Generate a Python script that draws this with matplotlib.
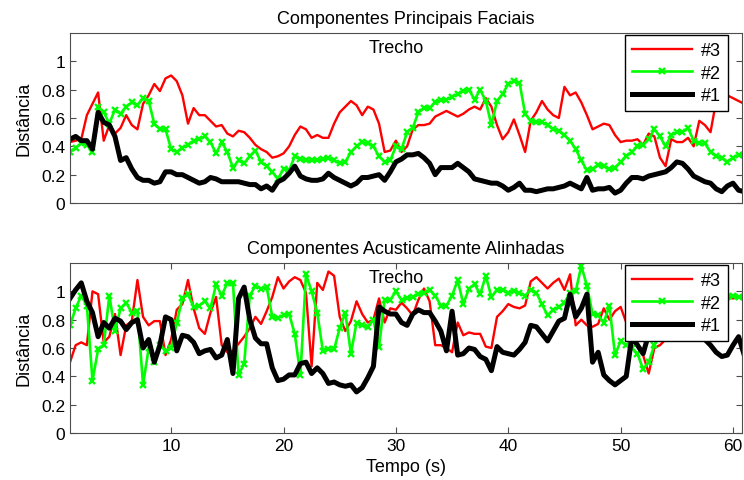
import numpy as np
import matplotlib
matplotlib.use('Agg')
import matplotlib.pyplot as plt

plt.rcParams['font.family'] = ['Liberation Sans', 'DejaVu Sans']

# tempo em segundos, um ponto a cada 0.5 s
tempo = np.linspace(1, 61, 121)

# Componentes Principais Faciais
fac_3 = [0.43, 0.44, 0.45, 0.62, 0.70, 0.78, 0.44, 0.55, 0.49, 0.53,
         0.62, 0.55, 0.52, 0.70, 0.76, 0.84, 0.79, 0.88, 0.90, 0.86,
         0.76, 0.56, 0.67, 0.62, 0.62, 0.58, 0.54, 0.55, 0.49, 0.47,
         0.51, 0.50, 0.46, 0.41, 0.38, 0.36, 0.32, 0.33, 0.35, 0.40,
         0.48, 0.54, 0.52, 0.46, 0.48, 0.46, 0.46, 0.56, 0.64, 0.68,
         0.72, 0.69, 0.62, 0.68, 0.66, 0.56, 0.36, 0.37, 0.44, 0.36,
         0.40, 0.52, 0.55, 0.55, 0.56, 0.61, 0.63, 0.65, 0.63, 0.61,
         0.63, 0.66, 0.68, 0.66, 0.74, 0.68, 0.55, 0.45, 0.50, 0.59,
         0.48, 0.36, 0.58, 0.64, 0.72, 0.66, 0.62, 0.60, 0.82, 0.76,
         0.78, 0.71, 0.62, 0.52, 0.54, 0.56, 0.55, 0.48, 0.43, 0.44,
         0.44, 0.45, 0.41, 0.49, 0.47, 0.32, 0.26, 0.45, 0.43, 0.43,
         0.46, 0.40, 0.58, 0.55, 0.50, 0.72, 0.82, 0.76, 0.74, 0.72,
         0.70]
fac_2 = [0.36, 0.39, 0.42, 0.41, 0.36, 0.68, 0.64, 0.56, 0.66, 0.63,
         0.68, 0.71, 0.69, 0.74, 0.72, 0.56, 0.52, 0.52, 0.38, 0.36,
         0.39, 0.41, 0.44, 0.45, 0.47, 0.43, 0.35, 0.43, 0.36, 0.25,
         0.30, 0.28, 0.33, 0.37, 0.29, 0.26, 0.22, 0.17, 0.24, 0.23,
         0.33, 0.31, 0.30, 0.30, 0.30, 0.31, 0.32, 0.30, 0.28, 0.29,
         0.36, 0.40, 0.43, 0.42, 0.40, 0.33, 0.29, 0.30, 0.40, 0.38,
         0.50, 0.53, 0.64, 0.67, 0.67, 0.71, 0.73, 0.73, 0.75, 0.77,
         0.79, 0.80, 0.73, 0.80, 0.72, 0.55, 0.72, 0.77, 0.84, 0.86,
         0.85, 0.63, 0.58, 0.57, 0.57, 0.55, 0.52, 0.51, 0.48, 0.44,
         0.38, 0.30, 0.23, 0.24, 0.27, 0.26, 0.24, 0.25, 0.29, 0.33,
         0.36, 0.40, 0.41, 0.45, 0.52, 0.47, 0.40, 0.48, 0.50, 0.50,
         0.53, 0.44, 0.42, 0.42, 0.36, 0.33, 0.32, 0.29, 0.32, 0.34,
         0.34]
fac_1 = [0.45, 0.47, 0.44, 0.44, 0.38, 0.64, 0.57, 0.55, 0.47, 0.30,
         0.32, 0.24, 0.18, 0.16, 0.16, 0.14, 0.15, 0.22, 0.22, 0.20,
         0.20, 0.18, 0.16, 0.14, 0.15, 0.18, 0.17, 0.15, 0.15, 0.15,
         0.15, 0.14, 0.13, 0.13, 0.10, 0.12, 0.09, 0.15, 0.17, 0.21,
         0.26, 0.19, 0.17, 0.16, 0.16, 0.17, 0.21, 0.18, 0.16, 0.14,
         0.12, 0.14, 0.18, 0.18, 0.19, 0.20, 0.16, 0.22, 0.29, 0.31,
         0.34, 0.34, 0.35, 0.32, 0.28, 0.20, 0.25, 0.25, 0.25, 0.28,
         0.25, 0.22, 0.17, 0.16, 0.15, 0.14, 0.14, 0.12, 0.09, 0.11,
         0.14, 0.09, 0.09, 0.08, 0.09, 0.10, 0.10, 0.11, 0.12, 0.14,
         0.12, 0.10, 0.18, 0.09, 0.10, 0.10, 0.11, 0.07, 0.09, 0.14,
         0.18, 0.18, 0.17, 0.19, 0.20, 0.21, 0.22, 0.25, 0.29, 0.28,
         0.24, 0.19, 0.17, 0.15, 0.14, 0.10, 0.08, 0.12, 0.14, 0.09,
         0.08]

# Componentes Acusticamente Alinhadas
ac_3 = [0.50, 0.62, 0.64, 0.62, 1.00, 0.98, 0.64, 0.68, 0.84, 0.55,
        0.76, 0.79, 1.08, 0.82, 0.76, 0.79, 0.79, 0.55, 0.66, 0.87,
        0.91, 1.08, 0.88, 0.74, 0.70, 0.85, 0.96, 0.62, 0.57, 0.58,
        0.63, 0.68, 0.74, 0.82, 0.77, 0.86, 0.96, 1.10, 1.02, 1.07,
        1.10, 1.08, 0.99, 0.47, 1.06, 1.01, 1.14, 1.11, 0.82, 0.72,
        0.79, 0.93, 0.84, 0.78, 0.80, 0.95, 0.78, 0.88, 0.87, 0.92,
        0.88, 0.83, 0.94, 1.02, 0.93, 0.62, 0.62, 0.60, 0.57, 0.78,
        0.69, 0.71, 0.70, 0.70, 0.61, 0.60, 0.82, 0.86, 0.91, 0.89,
        0.88, 0.90, 1.07, 1.10, 1.06, 1.02, 1.06, 1.09, 1.01, 1.12,
        0.76, 0.80, 0.76, 0.75, 0.77, 0.88, 0.80, 0.86, 0.89, 0.78,
        0.70, 0.62, 0.55, 0.42, 0.60, 0.62, 0.66, 0.70, 0.75, 0.80,
        0.85, 0.88, 0.90, 0.92, 0.92, 0.94, 0.95, 0.96, 0.95, 0.96,
        0.96]
ac_2 = [0.76, 0.88, 0.97, 0.90, 0.37, 0.59, 0.62, 0.97, 0.72, 0.88,
        0.92, 0.85, 0.86, 0.34, 0.60, 0.50, 0.62, 0.58, 0.60, 0.78,
        0.95, 0.98, 0.89, 0.90, 0.93, 0.88, 1.05, 0.97, 1.06, 1.06,
        0.41, 0.49, 0.97, 1.04, 1.02, 1.03, 0.82, 0.81, 0.83, 0.84,
        0.70, 0.41, 1.12, 1.00, 0.85, 0.58, 0.59, 0.59, 0.74, 0.85,
        0.56, 0.78, 0.76, 0.75, 0.80, 0.61, 0.94, 0.94, 1.00, 0.94,
        0.95, 0.96, 0.98, 0.99, 1.01, 0.97, 0.90, 0.90, 0.97, 1.08,
        0.91, 1.02, 1.05, 0.98, 1.11, 0.96, 1.01, 1.01, 0.99, 1.00,
        0.99, 0.97, 1.01, 0.99, 0.91, 0.83, 0.87, 0.89, 0.92, 0.99,
        1.00, 1.18, 1.04, 0.84, 0.83, 0.78, 0.90, 0.55, 0.65, 0.62,
        0.60, 0.56, 0.45, 0.50, 0.62, 0.70, 0.80, 0.85, 0.90, 0.93,
        0.94, 0.95, 0.96, 0.96, 0.95, 0.96, 0.97, 0.96, 0.97, 0.96,
        0.96]
ac_1 = [0.95, 1.01, 1.06, 0.93, 0.85, 0.68, 0.78, 0.74, 0.81, 0.79,
        0.73, 0.78, 0.80, 0.60, 0.66, 0.50, 0.62, 0.82, 0.80, 0.58,
        0.69, 0.68, 0.64, 0.56, 0.58, 0.59, 0.53, 0.55, 0.66, 0.42,
        0.95, 1.03, 0.80, 0.67, 0.63, 0.63, 0.46, 0.37, 0.38, 0.41,
        0.41, 0.49, 0.50, 0.42, 0.46, 0.42, 0.35, 0.36, 0.34, 0.33,
        0.34, 0.29, 0.32, 0.39, 0.47, 0.89, 0.86, 0.84, 0.84, 0.78,
        0.76, 0.84, 0.87, 0.85, 0.85, 0.79, 0.72, 0.58, 0.86, 0.55,
        0.56, 0.60, 0.59, 0.54, 0.52, 0.44, 0.61, 0.57, 0.56, 0.55,
        0.59, 0.64, 0.76, 0.75, 0.70, 0.65, 0.72, 0.79, 0.81, 0.98,
        0.82, 0.88, 0.98, 0.50, 0.57, 0.41, 0.37, 0.34, 0.37, 0.40,
        0.68, 0.62, 0.56, 0.70, 0.72, 0.68, 0.66, 0.70, 0.75, 0.80,
        0.82, 0.78, 0.72, 0.66, 0.62, 0.57, 0.54, 0.55, 0.62, 0.68,
        0.55]

titulos = ['Componentes Principais Faciais', 'Componentes Acusticamente Alinhadas']
rotulos = ['#3', '#2', '#1']
yticks = [0, 0.2, 0.4, 0.6, 0.8, 1]
yticklabels = ['0', '0.2', '0.4', '0.6', '0.8', '1']
xticks = [10, 20, 30, 40, 50, 60]

fig = plt.figure(figsize=(7.44, 4.81), dpi=100)
ax1 = fig.add_axes([0.0941, 0.5759, 0.9032, 0.3534])
ax2 = fig.add_axes([0.0941, 0.0977, 0.9032, 0.3534])

for ax, dados, titulo in [(ax1, (fac_3, fac_2, fac_1), titulos[0]),
                          (ax2, (ac_3, ac_2, ac_1), titulos[1])]:
    ax.plot(tempo, dados[0], color='#ff0000', lw=1.7, label=rotulos[0])
    ax.plot(tempo, dados[1], color='#00ff00', lw=1.9, marker='x',
            ms=5, mew=1.7, label=rotulos[1])
    ax.plot(tempo, dados[2], color='black', lw=3.6, label=rotulos[2])
    ax.set_xlim(1, 60.8)
    ax.set_ylim(0, 1.2)
    ax.set_yticks(yticks)
    ax.set_yticklabels(yticklabels)
    ax.set_ylabel('Distância', fontsize=13, labelpad=6)
    ax.set_title(titulo, fontsize=13, pad=7)
    ax.text(30, 1.10, 'Trecho', ha='center', va='center', fontsize=13)
    ax.tick_params(direction='in', right=True, top=True, labelsize=12.5,
                   length=4, color='0.3')
    for s in ax.spines.values():
        s.set_color('0.3')
    leg = ax.legend(loc='upper right', bbox_to_anchor=(0.979, 0.988),
                    borderaxespad=0, fancybox=False, framealpha=1,
                    edgecolor='black', fontsize=13, handlelength=3.3,
                    handletextpad=0.5, labelspacing=0.3,
                    borderpad=0.4)
    leg.get_frame().set_linewidth(1.0)

ax1.set_xticks([])
ax2.set_xticks(xticks)
ax2.set_xlabel('Tempo (s)', fontsize=13)

fig.savefig('out.png', dpi=100)
